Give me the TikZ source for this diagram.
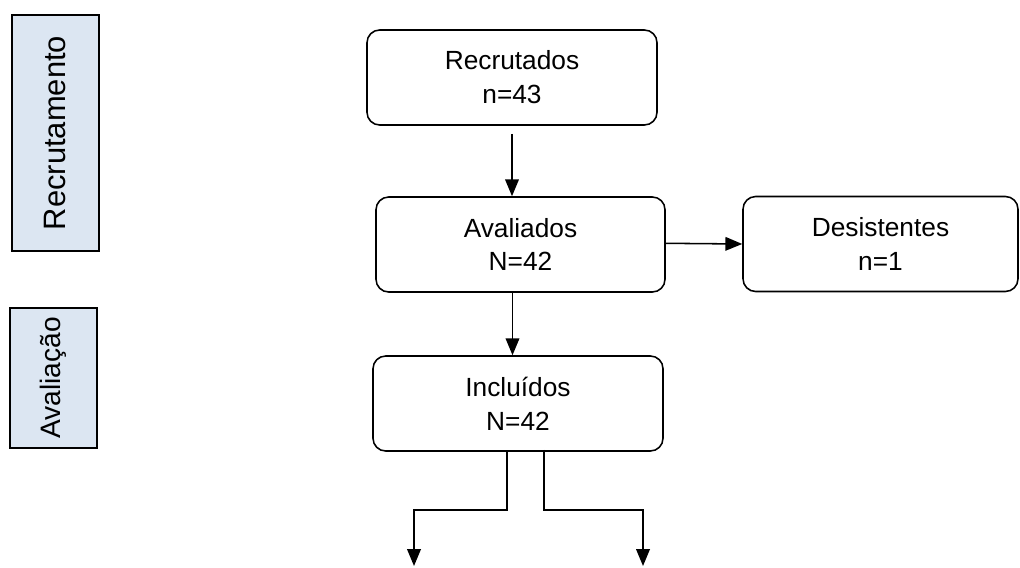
\documentclass[tikz,border=0pt]{standalone}
\usepackage{fontspec}
\setmainfont{Liberation Sans}
\usetikzlibrary{arrows.meta, positioning}
\definecolor{sideblue}{HTML}{DCE6F2}

\begin{document}
\begin{tikzpicture}[
    font=\fontsize{18.7}{24.1}\selectfont,
    box/.style={draw=black, line width=1.1pt, rounded corners=9pt, minimum width=#1, minimum height=2.375cm, align=center, inner sep=0pt},
    side/.style={draw=black, line width=1.2pt, fill=sideblue, rotate=90, minimum height=2.175cm, minimum width=#1, inner sep=0pt},
    arr/.style={-{Triangle[length=0.42cm, width=0.34cm]}, line width=1.1pt},
]
\useasboundingbox (0,0) rectangle (25.5,-14.175);

\node[side=5.9cm, font=\fontsize{22}{26}\selectfont] (recphase) at (1.3875,-3.325) {Recrutamento};
\node[side=3.5cm, font=\fontsize{20}{24}\selectfont] (avaphase) at (1.3375,-9.45) {Avaliação};

\node[box=7.25cm] (rec) at (12.8,-1.9375) {Recrutados \\ n=43};
\node[box=7.225cm] (ava) at (13.0125,-6.1125) {Avaliados \\ N=42};
\node[box=6.875cm] (des) at (22.0125,-6.1) {Desistentes \\ n=1};
\node[box=7.25cm] (inc) at (12.95,-10.0875) {Incluídos \\ N=42};

\coordinate (outL) at (10.35,-14.15);
\coordinate (outR) at (16.075,-14.15);

\draw[arr] ([yshift=-2mm]rec.south) -- (rec.south |- ava.north);
\draw[arr] ([yshift=0.3mm]ava.east) -- (des.west);
\draw[arr] ([xshift=-2mm]ava.south) -- ([xshift=-2mm]ava.south |- inc.north);
\draw[arr] ([xshift=-2.75mm]inc.south) -- ++(0,-1.45) -| (outL);
\draw[arr] ([xshift=6.5mm,yshift=0.5mm]inc.south) -- ++(0,-1.5) -| (outR);
\end{tikzpicture}
\end{document}
